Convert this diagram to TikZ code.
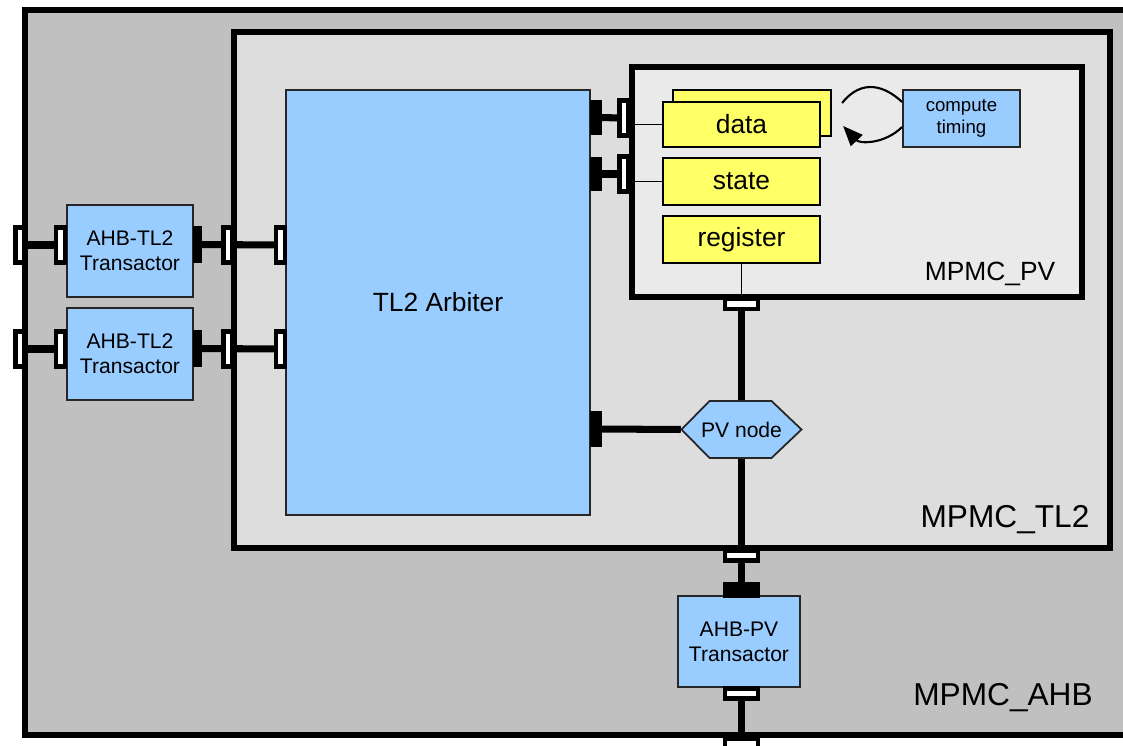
\documentclass[tikz,border=0pt]{standalone}
\usepackage{fontspec}
\setmainfont{Liberation Sans}
\usetikzlibrary{arrows.meta,calc}
\pgfdeclarelayer{back}
\pgfdeclarelayer{mid}
\pgfsetlayers{back,mid,main}
\definecolor{outergray}{HTML}{C0C0C0}
\definecolor{tlgray}{HTML}{DDDDDD}
\definecolor{pvgray}{HTML}{EAEAEA}
\definecolor{boxblue}{HTML}{99CCFF}
\definecolor{boxyellow}{HTML}{FFFF66}
\begin{document}
\begin{tikzpicture}[x=0.01cm,y=-0.01cm,
  container/.style={draw=black, line width=1.7pt, inner sep=0},
  conn/.style={line width=2pt},
  thinline/.style={line width=0.35pt},
  blk/.style={draw=black!85, line width=0.5pt, fill=boxblue, inner sep=0, align=center},
  ylw/.style={draw=black, line width=0.6pt, fill=boxyellow, inner sep=0, minimum width=1.57cm, minimum height=0.45cm, font=\fontsize{7.5}{9}\selectfont},
  hport/.style={draw=black, fill=white, line width=1.3pt, minimum width=0.09cm, minimum height=0.355cm, inner sep=0},
  wport/.style={draw=black, fill=white, line width=1.4pt, minimum width=0.33cm, minimum height=0.10cm, inner sep=0},
  sport/.style={fill=black, inner sep=0},
  lbl/.style={inner sep=0}
]
\useasboundingbox (0,0) rectangle (1123,746);

% containers
\begin{pgfonlayer}{back}
\node[container, fill=outergray, minimum width=11.15cm, minimum height=7.25cm] (ahbbox) at (582.5,372.5) {};
\node[container, fill=tlgray, minimum width=8.76cm, minimum height=5.155cm] (tl2box) at (672,290.25) {};
\node[container, fill=pvgray, minimum width=4.5cm, minimum height=2.3cm] (pvbox) at (857,182) {};
\end{pgfonlayer}

\node[lbl, font=\fontsize{9}{11}\selectfont] (ahblabel) at (1003,698) {MPMC\_AHB};
\node[lbl, font=\fontsize{9}{11}\selectfont] (tl2label) at (1005,520) {MPMC\_TL2};
\node[lbl, font=\fontsize{7.5}{9}\selectfont] (pvlabel) at (990,274) {MPMC\_PV};

% blocks
\node[blk, minimum width=3.04cm, minimum height=4.25cm, font=\fontsize{7.5}{9}\selectfont] (arb) at (438,302.5) {TL2 Arbiter};
\node[blk, minimum width=1.26cm, minimum height=0.92cm, font=\fontsize{6}{7.1}\selectfont] (t1) at (130,251) {AHB-TL2\\Transactor};
\node[blk, minimum width=1.26cm, minimum height=0.92cm, font=\fontsize{6}{7.1}\selectfont] (t2) at (130,354) {AHB-TL2\\Transactor};
\node[blk, minimum width=1.22cm, minimum height=0.91cm, font=\fontsize{6}{7.1}\selectfont] (t3) at (739,641.5) {AHB-PV\\Transactor};
\node[blk, minimum width=1.17cm, minimum height=0.57cm, font=\fontsize{5.3}{6.3}\selectfont] (ct) at (961.5,118.5) {compute\\timing};

\node[ylw, minimum width=1.58cm, minimum height=0.46cm] (databack) at (752,113) {};
\node[ylw] (data) at (741.5,124.5) {data};
\node[ylw, minimum height=0.47cm] (state) at (741.5,181.5) {state};
\node[ylw, minimum height=0.47cm] (reg) at (741.5,239.5) {register};

% PV node hexagon
\draw[draw=black!85, line width=0.5pt, fill=boxblue] (681.5,429.5) -- (709.5,401) -- (771.5,401) -- (801.5,429.5) -- (771.5,458) -- (709.5,458) -- cycle;
\node[inner sep=0, minimum width=1.2cm, minimum height=0.57cm, font=\fontsize{6}{7.1}\selectfont] (pvn) at (741.5,429.5) {PV node};

% ports
\node[hport] (o1) at (20,245) {};
\node[hport] (t1in) at (60.5,245) {};
\node[sport, minimum width=0.09cm, minimum height=0.37cm] (t1out) at (197.5,244.5) {};
\node[hport] (tl1) at (228,245) {};
\node[hport] (a1) at (280.5,245) {};

\node[hport] (o2) at (20,349) {};
\node[hport] (t2in) at (60.5,349) {};
\node[sport, minimum width=0.09cm, minimum height=0.37cm] (t2out) at (197.5,348.5) {};
\node[hport] (tl2p) at (228,349) {};
\node[hport] (a2) at (280.5,349) {};

\node[sport, minimum width=0.12cm, minimum height=0.35cm] (ar1) at (596,117.5) {};
\node[hport] (pv1) at (624,118) {};
\node[sport, minimum width=0.12cm, minimum height=0.33cm] (ar2) at (596,174) {};
\node[hport] (pv2) at (624,174) {};
\node[sport, minimum width=0.12cm, minimum height=0.36cm] (ar3) at (596,429) {};

\node[wport] (pvb) at (741.5,304) {};
\node[wport] (tlb) at (741.5,555.5) {};
\node[sport, minimum width=0.37cm, minimum height=0.16cm] (t3in) at (741.5,590) {};
\node[wport] (t3out) at (741.5,693.5) {};
\node[wport] (ob) at (741.5,744) {};

% connectors
\begin{pgfonlayer}{mid}
\draw[conn] (o1.center) -- (t1in.center);
\draw[conn] (t1out.center) -- (a1.center);
\draw[conn] (o2.center) -- (t2in.center);
\draw[conn] (t2out.center) -- (a2.center);
\draw[conn] (ar1.center) -- (pv1.center);
\draw[conn] (ar2.center) -- (pv2.center);
\draw[conn] (ar3.center) -- (pvn.west);
\draw[conn] (pvb.center) -- (pvn.north);
\draw[conn] (pvn.south) -- (t3in.center);
\draw[conn] (t3out.center) -- (ob.center);
\draw[thinline] (pv1.east |- data.west) -- (data.west);
\draw[thinline] (pv2.east |- state.west) -- (state.west);
\draw[thinline] (reg.south) -- (pvb.center);
\end{pgfonlayer}

% compute timing loop
\draw[line width=0.6pt] ($(databack.east)+(10,-10)$) .. controls (862,78) and (885,86) .. ($(ct.west)+(0,-16.5)$);
\draw[line width=0.6pt, -{Triangle[length=0.2cm,width=0.16cm]}] ($(ct.west)+(0,8.5)$) .. controls (885,144) and (860,144) .. ($(data.east)+(22,1.5)$);
\end{tikzpicture}
\end{document}
